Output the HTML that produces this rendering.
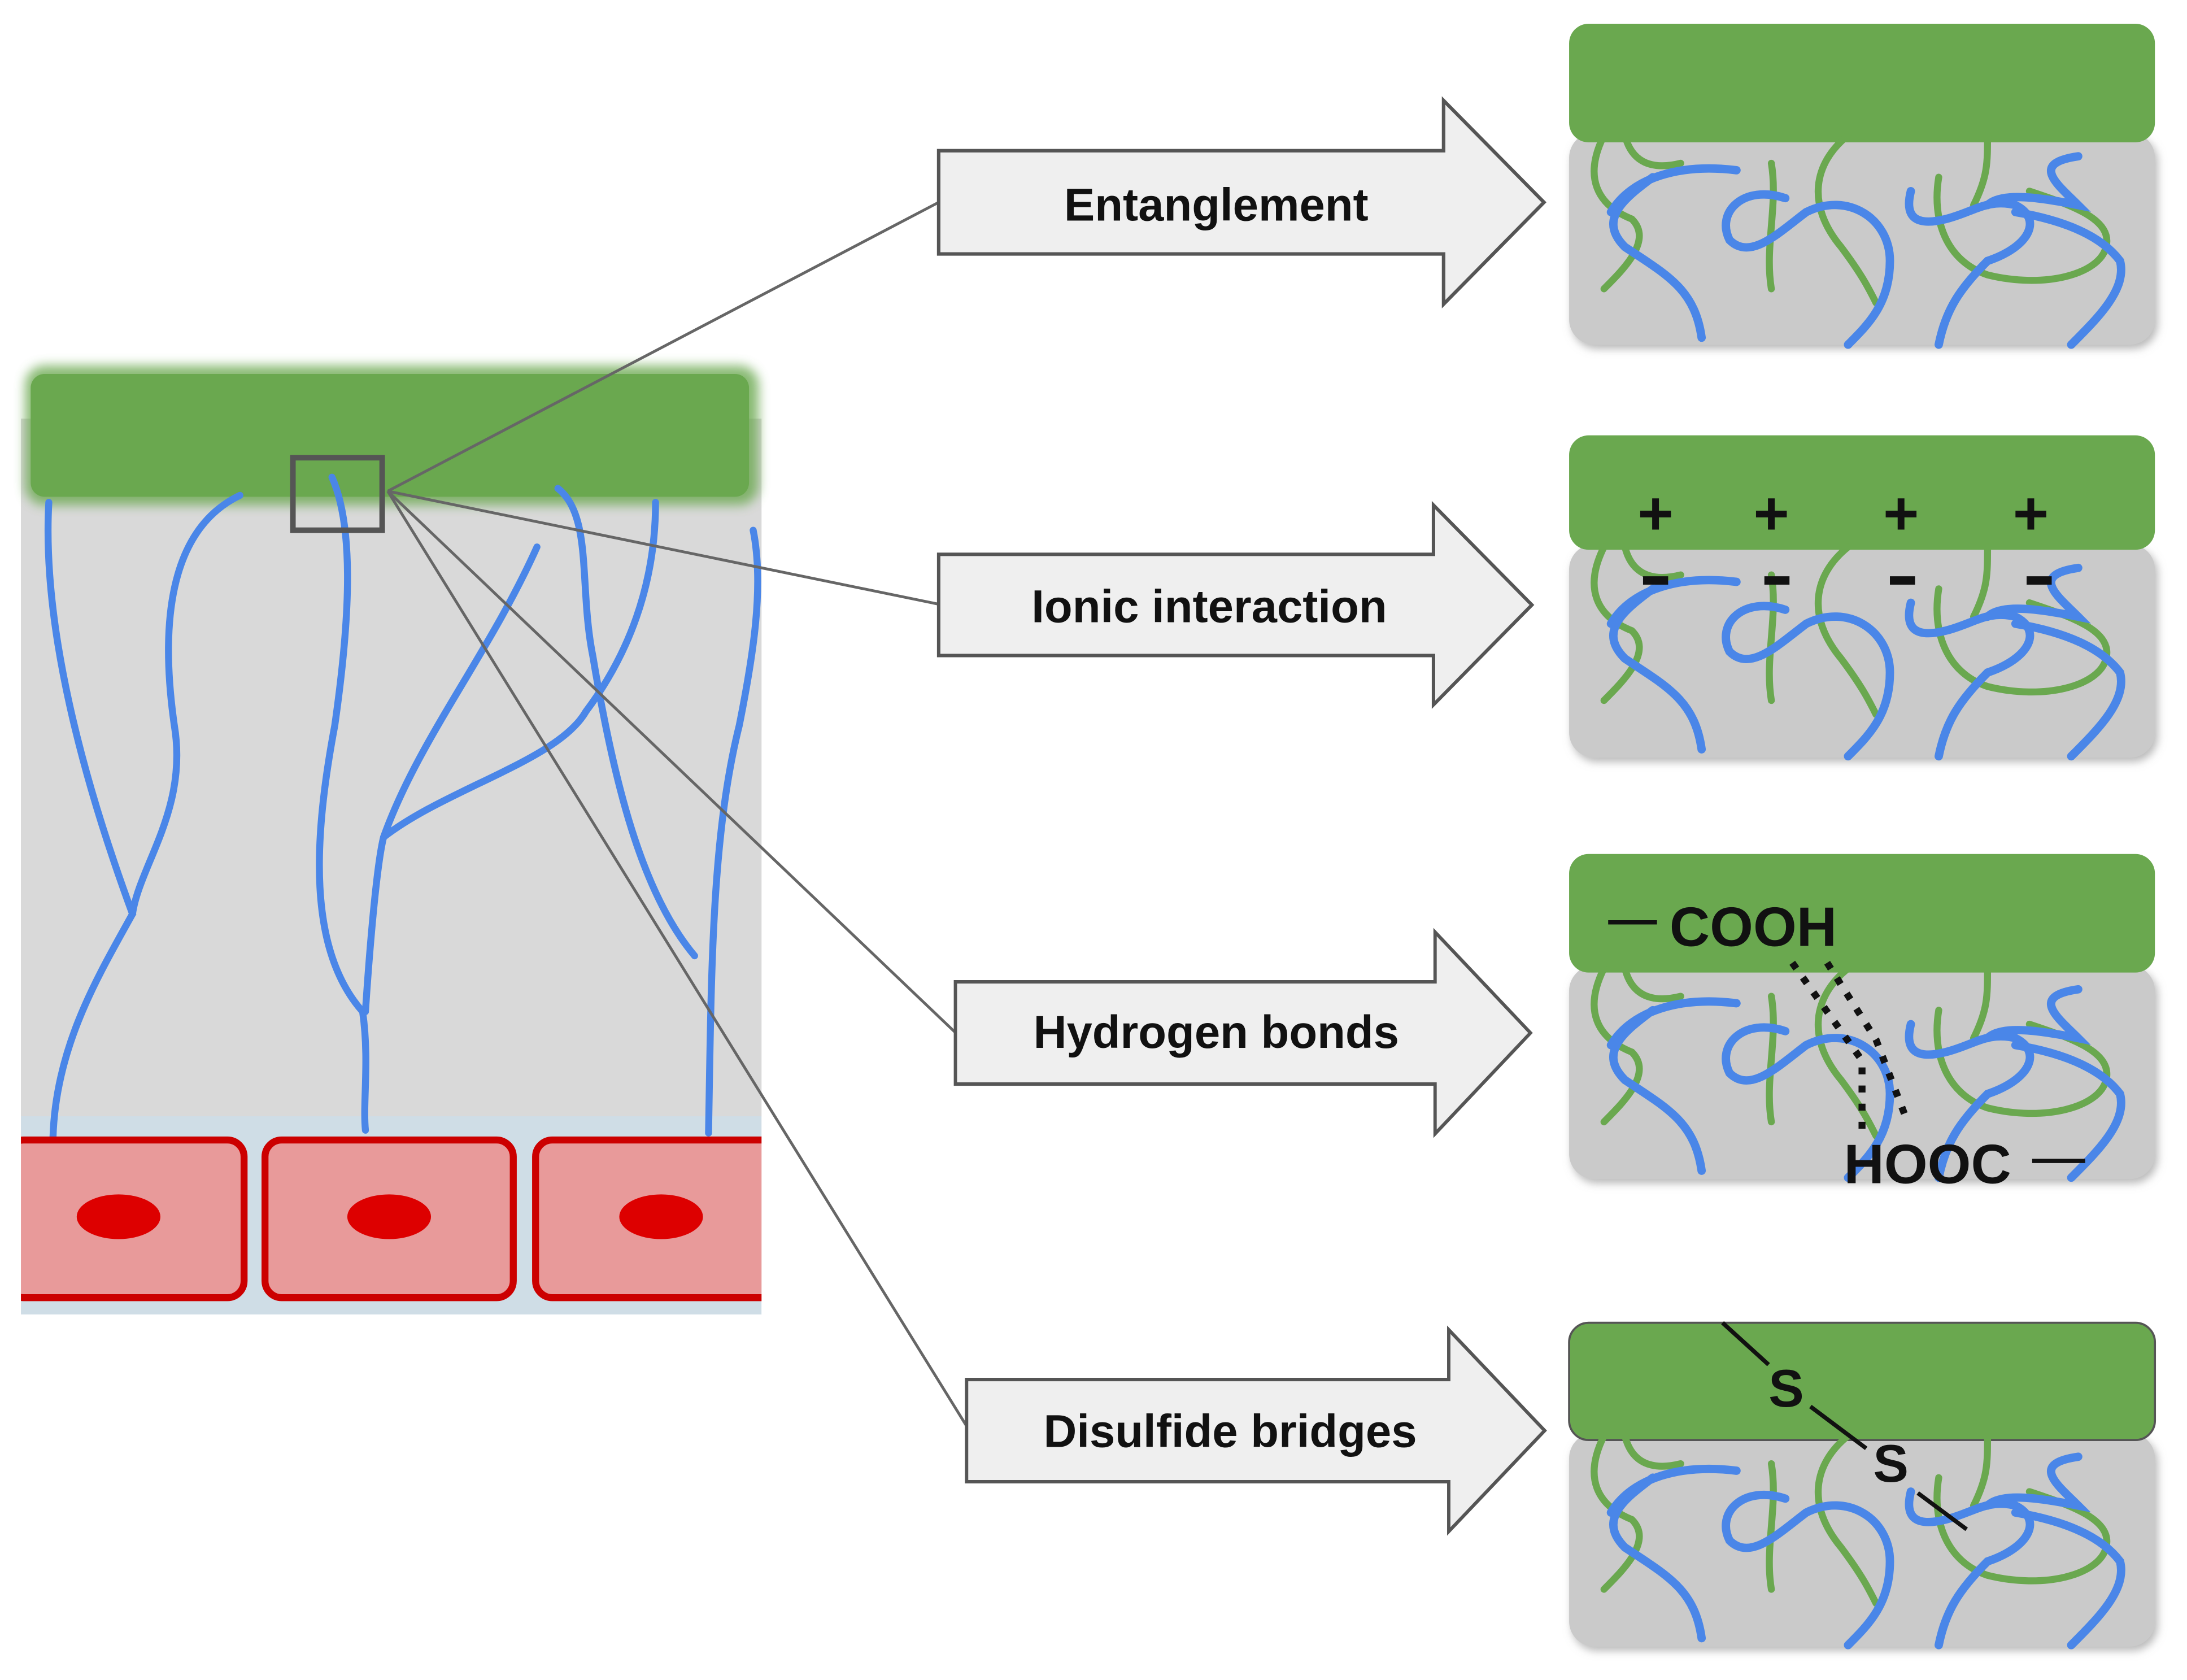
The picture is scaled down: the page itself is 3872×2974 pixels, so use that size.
<!DOCTYPE html>
<html><head><meta charset="utf-8"><style>
html,body{margin:0;padding:0;background:#fff;}
svg{display:block;}
</style></head><body>
<svg width="3872" height="2974" viewBox="0 0 1568 1204" preserveAspectRatio="none" xmlns="http://www.w3.org/2000/svg">
<defs>
<filter id="glow" x="-10%" y="-30%" width="120%" height="160%"><feGaussianBlur stdDeviation="4"/></filter>
<filter id="sh" x="-5%" y="-5%" width="115%" height="120%"><feDropShadow dx="2" dy="3" stdDeviation="3" flood-color="#888" flood-opacity="0.6"/></filter>
<g id="poly">
  <g fill="none" stroke="#6aa84f" stroke-width="5" stroke-linecap="round">
    <path d="M25,0 C10,30 20,50 45,60 C60,75 40,95 25,110"/>
    <path d="M40,0 C45,20 60,25 80,20"/>
    <path d="M145,20 C150,50 140,80 145,110"/>
    <path d="M200,0 C175,20 170,50 195,80 C210,100 215,110 220,120"/>
    <path d="M265,30 C260,60 270,90 300,100 C340,110 380,100 385,80 C390,60 360,50 330,40"/>
    <path d="M300,0 C300,20 300,30 290,50"/>
  </g>
  <g fill="none" stroke="#4a86e8" stroke-width="6" stroke-linecap="round">
    <path d="M30,55 C45,30 80,20 120,25 M60,30 C40,45 20,60 40,80 C70,100 90,110 95,145"/>
    <path d="M155,45 C125,35 105,55 115,75 C130,90 150,70 170,55 C200,40 230,60 230,90 C230,120 215,135 200,150"/>
    <path d="M245,40 C240,60 250,65 270,60 C290,55 300,45 320,50 C340,60 330,80 300,90 C280,110 270,125 265,150"/>
    <path d="M300,50 C310,40 340,45 365,50 C350,35 330,20 365,15 M320,55 C350,60 380,70 395,90 C400,110 380,130 360,150"/>
  </g>
</g>
<g id="arrow">
  <path d="M0,36 H362 V0 L434,73 L362,146 V110 H0 Z" fill="#efefef" stroke="#555" stroke-width="2.5"/>
</g>
</defs>

<rect x="15" y="300" width="531" height="520" fill="#d9d9d9"/>
<rect x="15" y="800" width="531" height="142" fill="#cfdde6"/>
<rect x="18" y="262" width="526" height="100" rx="14" fill="#6aa84f" opacity="0.8" filter="url(#glow)"/>
<rect x="22" y="268" width="515" height="88" rx="10" fill="#6aa84f"/>

<g fill="none" stroke="#4a86e8" stroke-width="5" stroke-linecap="round">
  <path d="M35,360 C30,450 60,560 95,655 C70,700 40,750 38,815"/>
  <path d="M172,355 C120,380 115,450 125,520 C135,580 100,620 95,655"/>
  <path d="M238,342 C255,380 250,450 240,520 C225,600 220,680 260,725 C265,760 260,790 262,810"/>
  <path d="M262,725 C265,680 270,620 275,600 C300,530 350,470 385,392"/>
  <path d="M275,600 C320,565 400,545 420,510 C450,470 470,420 470,360"/>
  <path d="M400,350 C425,370 415,420 425,470 C440,560 460,640 498,685"/>
  <path d="M540,380 C548,420 540,470 530,520 C510,600 510,700 508,812"/>
</g>

<g fill="#e89a9a" stroke="#cc0000" stroke-width="5">
  <rect x="5" y="817" width="170" height="113" rx="12"/>
  <rect x="190" y="817" width="178" height="113" rx="12"/>
  <rect x="384" y="817" width="175" height="113" rx="12"/>
</g>
<rect x="546" y="800" width="30" height="150" fill="#fff"/>
<rect x="0" y="800" width="15" height="150" fill="#fff"/>
<g fill="#dd0000">
  <ellipse cx="85" cy="872" rx="30" ry="16"/>
  <ellipse cx="279" cy="872" rx="30" ry="16"/>
  <ellipse cx="474" cy="872" rx="30" ry="16"/>
</g>
<rect x="210" y="328" width="64" height="52" fill="none" stroke="#555" stroke-width="4"/>

<g stroke="#666" stroke-width="2" fill="none">
  <line x1="278" y1="352" x2="673" y2="145"/>
  <line x1="278" y1="352" x2="673" y2="433"/>
  <line x1="278" y1="352" x2="685" y2="740"/>
  <line x1="278" y1="352" x2="693" y2="1022"/>
</g>

<use href="#arrow" transform="translate(673,72)"/>
<use href="#arrow" transform="translate(673,362) scale(0.98,0.98)"/>
<use href="#arrow" transform="translate(685,668) scale(0.95,0.99)"/>
<use href="#arrow" transform="translate(693,953) scale(0.955,0.99)"/>

<g font-family="Liberation Sans, sans-serif" font-weight="bold" font-size="33" fill="#111" text-anchor="middle">
  <text x="872" y="158">Entanglement</text>
  <text x="867" y="446">Ionic interaction</text>
  <text x="872" y="751">Hydrogen bonds</text>
  <text x="882" y="1037">Disulfide bridges</text>
</g>

<g>
  <rect x="1125" y="95" width="420" height="152" rx="18" fill="#cacaca" filter="url(#sh)"/>
  <rect x="1125" y="17" width="420" height="85" rx="14" fill="#6aa84f"/>
  <use href="#poly" transform="translate(1125,97)"/>
</g>
<g>
  <rect x="1125" y="390" width="420" height="153" rx="18" fill="#cacaca" filter="url(#sh)"/>
  <rect x="1125" y="312" width="420" height="82" rx="14" fill="#6aa84f"/>
  <use href="#poly" transform="translate(1125,392)"/>
  <g font-family="Liberation Sans, sans-serif" font-weight="bold" font-size="44" fill="#111" text-anchor="middle">
    <text x="1187" y="383">+</text><text x="1270" y="383">+</text><text x="1363" y="383">+</text><text x="1456" y="383">+</text>
  </g>
  <g fill="#111"><rect x="1178" y="413" width="18" height="6"/><rect x="1265" y="413" width="18" height="6"/><rect x="1355" y="413" width="18" height="6"/><rect x="1453" y="413" width="18" height="6"/></g>
</g>
<g>
  <rect x="1125" y="692" width="420" height="153" rx="18" fill="#cacaca" filter="url(#sh)"/>
  <rect x="1125" y="612" width="420" height="85" rx="14" fill="#6aa84f"/>
  <use href="#poly" transform="translate(1125,694)"/>
  <line x1="1153" y1="661" x2="1188" y2="661" stroke="#111" stroke-width="3"/>
  <text x="1197" y="678" font-family="Liberation Sans, sans-serif" font-weight="bold" font-size="40" fill="#111">COOH</text>
  <path d="M1285,690 L1335,760 L1335,810 M1310,690 L1345,745 L1368,805" stroke="#111" stroke-width="5" stroke-dasharray="5,8" fill="none"/>
  <text x="1322" y="848" font-family="Liberation Sans, sans-serif" font-weight="bold" font-size="40" fill="#111">HOOC</text>
  <line x1="1457" y1="832" x2="1495" y2="832" stroke="#111" stroke-width="3"/>
</g>
<g>
  <rect x="1125" y="1027" width="420" height="153" rx="18" fill="#cacaca" filter="url(#sh)"/>
  <rect x="1125" y="948" width="420" height="84" rx="14" stroke="#555" stroke-width="1.5" fill="#6aa84f"/>
  <use href="#poly" transform="translate(1125,1029)"/>
  <g stroke="#111" stroke-width="3">
    <line x1="1235" y1="948" x2="1268" y2="978"/>
    <line x1="1298" y1="1008" x2="1338" y2="1038"/>
    <line x1="1375" y1="1070" x2="1410" y2="1096"/>
  </g>
  <g font-family="Liberation Sans, sans-serif" font-weight="bold" font-size="38" fill="#111">
    <text x="1268" y="1008">S</text>
    <text x="1343" y="1062">S</text>
  </g>
</g>
</svg>
</body></html>
